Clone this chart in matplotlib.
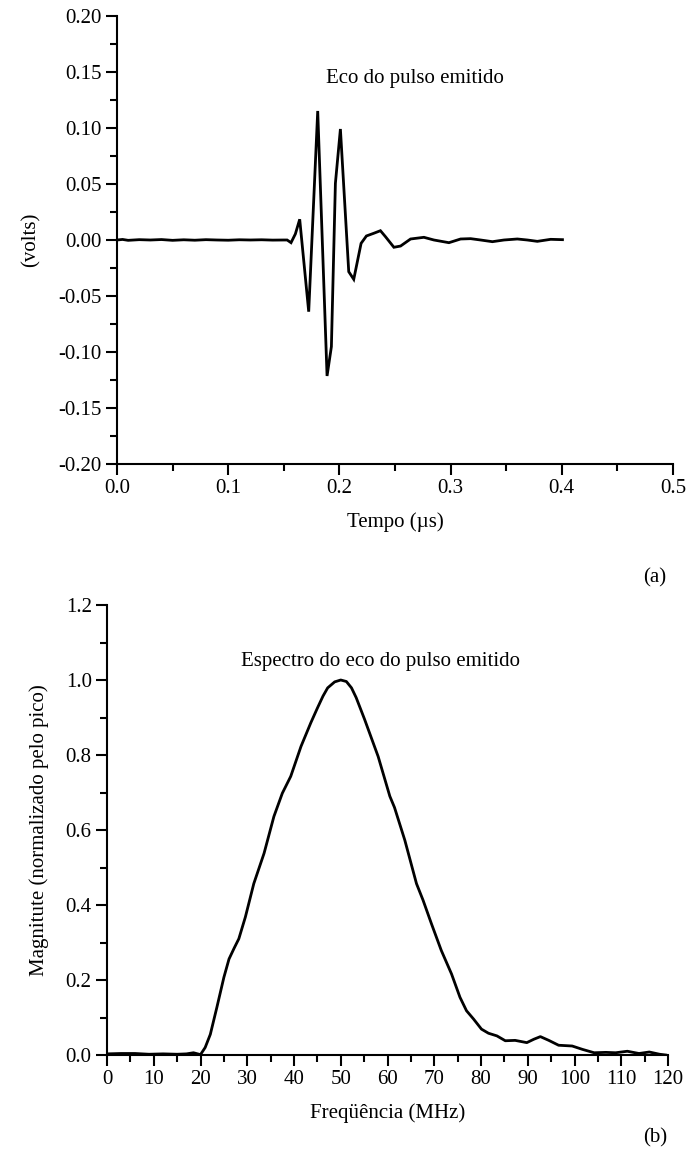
import matplotlib
matplotlib.use("Agg")
import matplotlib.pyplot as plt
from matplotlib.ticker import MultipleLocator, FormatStrFormatter

# ---- data: echo waveform (time in us, amplitude in volts) ----
tempo = [0.000, 0.005, 0.010, 0.020, 0.030, 0.040, 0.050, 0.060, 0.070, 0.080,
         0.090, 0.100, 0.110, 0.120, 0.130, 0.140, 0.150, 0.1530, 0.1565, 0.1604,
         0.1643, 0.1724, 0.1805, 0.1889, 0.1928, 0.1964, 0.2009, 0.2084, 0.2129,
         0.2195, 0.2243, 0.2309, 0.2369, 0.2414, 0.2490, 0.2550, 0.2640, 0.2760,
         0.2850, 0.2985, 0.3090, 0.3180, 0.3270, 0.3376, 0.3480, 0.3600, 0.3690,
         0.3780, 0.3900, 0.4006]
volts = [0.0000, 0.0005, -0.0003, 0.0003, 0.0000, 0.0004, -0.0003, 0.0002, -0.0002, 0.0003,
         0.0000, -0.0002, 0.0002, 0.0000, 0.0002, -0.0001, 0.0000, 0.0000, -0.0024, 0.0054,
         0.0185, -0.0640, 0.1152, -0.1214, -0.0952, 0.0506, 0.0991, -0.0283, -0.0351,
         -0.0030, 0.0036, 0.0060, 0.0083, 0.0030, -0.0065, -0.0054, 0.0009, 0.0024,
         0.0000, -0.0024, 0.0009, 0.0012, 0.0000, -0.0015, 0.0000, 0.0009, 0.0000,
         -0.0012, 0.0006, 0.0003]

# ---- data: spectrum (MHz, normalized magnitude) ----
freq = [0, 3, 6, 9, 12, 15, 17, 18.5, 20, 21, 22.1, 23.5, 25, 26.1, 27.2, 28.2, 29.6,
        31.4, 33.6, 35.7, 37.5, 39.3, 41.5, 43.6, 45, 46.2, 47.2, 48.7, 50, 51.2,
        52.3, 53.3, 55.1, 58, 60.5, 61.5, 63.7, 66.2, 67.6, 69.4, 71.5, 73.7, 75.5,
        76.9, 78.4, 80.1, 81.6, 83.4, 85.2, 87.3, 89.8, 91.3, 92.7, 94.5, 96.6, 99.5,
        101.7, 104.2, 106.7, 108.8, 111.3, 113.8, 116, 118.2, 119.5]
magn = [0.003, 0.004, 0.004, 0.002, 0.003, 0.002, 0.003, 0.006, 0.001, 0.020, 0.055,
        0.127, 0.207, 0.256, 0.285, 0.310, 0.368, 0.457, 0.538, 0.636, 0.698, 0.743,
        0.823, 0.886, 0.925, 0.957, 0.979, 0.995, 1.000, 0.996, 0.979, 0.953, 0.895,
        0.796, 0.690, 0.660, 0.573, 0.457, 0.413, 0.350, 0.279, 0.216, 0.154, 0.118,
        0.096, 0.069, 0.058, 0.051, 0.038, 0.039, 0.033, 0.042, 0.049, 0.039, 0.026,
        0.024, 0.015, 0.006, 0.007, 0.006, 0.010, 0.004, 0.008, 0.002, 0.000]

plt.rcParams['font.family'] = ['Liberation Serif', 'DejaVu Serif']
plt.rcParams['font.size'] = 15

fig = plt.figure(figsize=(6.89, 11.59), dpi=100)

def style(ax):
    for s in ('top', 'right'):
        ax.spines[s].set_visible(False)
    for s in ('left', 'bottom'):
        ax.spines[s].set_linewidth(1.5)
    ax.tick_params(which='major', length=8, width=1.5, direction='out', labelsize=15, pad=3)
    ax.tick_params(which='minor', length=5, width=1.5, direction='out')

# ---- top panel ----
ax1 = fig.add_axes([117/689, 1 - 464/1159, (673 - 117)/689, (464 - 16)/1159])
ax1.plot(tempo, volts, color='black', lw=2.0, solid_joinstyle='miter')
ax1.set_xlim(0, 0.5)
ax1.set_ylim(-0.20, 0.20)
ax1.xaxis.set_major_locator(MultipleLocator(0.1))
ax1.xaxis.set_minor_locator(MultipleLocator(0.05))
ax1.yaxis.set_major_locator(MultipleLocator(0.05))
ax1.yaxis.set_minor_locator(MultipleLocator(0.025))
ax1.xaxis.set_major_formatter(FormatStrFormatter('%.1f'))
ax1.yaxis.set_major_formatter(FormatStrFormatter('%.2f'))
style(ax1)
ax1.set_xlabel('Tempo (µs)', fontsize=15, labelpad=10)
ax1.set_ylabel('(volts)', fontsize=15, labelpad=13)
ax1.text(0.2676, 0.1438, 'Eco do pulso emitido', ha='center', va='center', fontsize=15)
fig.text(655/689, 1 - 578/1159, '(a)', ha='center', va='center', fontsize=15)

# ---- bottom panel ----
ax2 = fig.add_axes([107/689, 1 - 1055/1159, (668 - 107)/689, (1055 - 605)/1159])
ax2.plot(freq, magn, color='black', lw=2.0, solid_joinstyle='round')
ax2.set_xlim(0, 120)
ax2.set_ylim(0, 1.2)
ax2.xaxis.set_major_locator(MultipleLocator(10))
ax2.xaxis.set_minor_locator(MultipleLocator(5))
ax2.yaxis.set_major_locator(MultipleLocator(0.2))
ax2.yaxis.set_minor_locator(MultipleLocator(0.1))
ax2.yaxis.set_major_formatter(FormatStrFormatter('%.1f'))
style(ax2)
ax2.set_xlabel('Freqüência (MHz)', fontsize=15, labelpad=10)
ax2.set_ylabel('Magnitute (normalizado pelo pico)', fontsize=15, labelpad=12)
ax2.text(58.4, 1.05, 'Espectro do eco do pulso emitido', ha='center', va='center', fontsize=15)
fig.text(655/689, 1 - 1138/1159, '(b)', ha='center', va='center', fontsize=15)

fig.savefig('out.png', dpi=100)
